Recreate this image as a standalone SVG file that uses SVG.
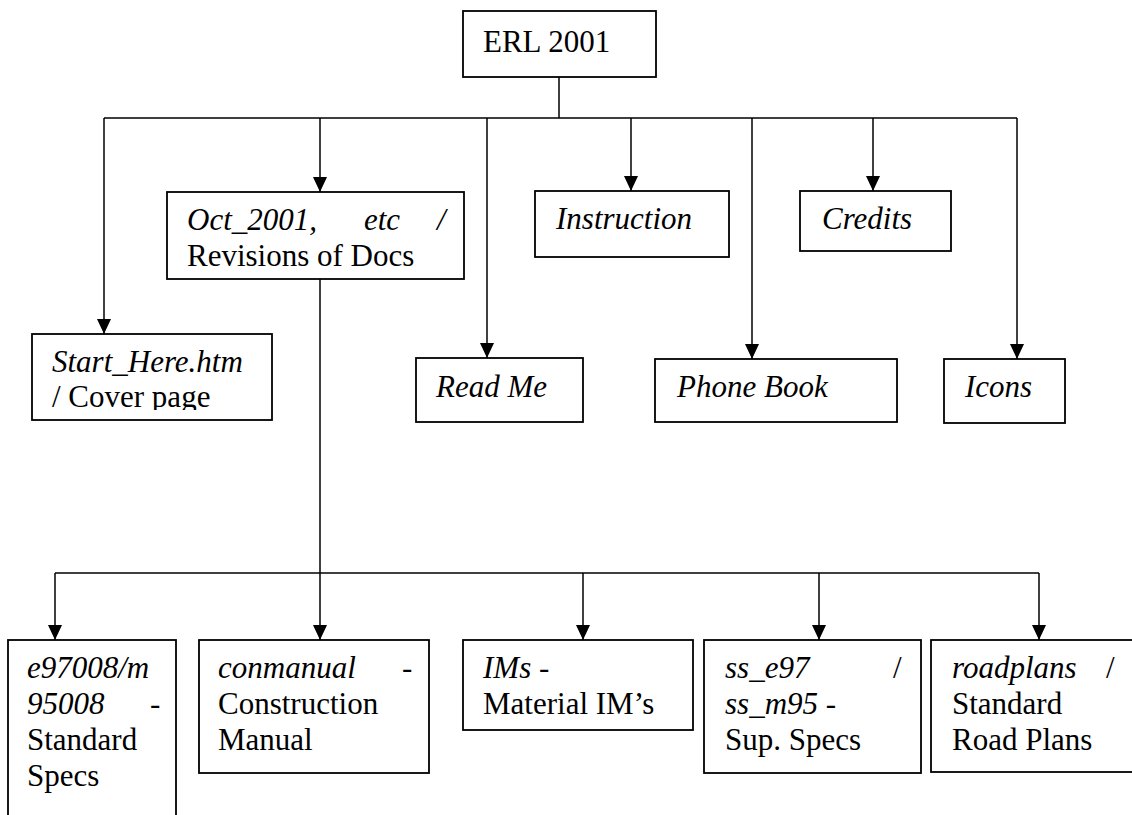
<svg xmlns="http://www.w3.org/2000/svg" width="1132" height="815" viewBox="0 0 1132 815">
<style>
.box{fill:#fff;stroke:#000;stroke-width:1.8}
.ln{fill:none;stroke:#000;stroke-width:1.5}
.t{font-family:"Liberation Serif","Times New Roman",serif;font-size:31px;fill:#000}
.i{font-style:italic}
</style>
<defs>
<marker id="ah" markerUnits="userSpaceOnUse" markerWidth="15" markerHeight="14" viewBox="0 0 15 14" refX="15" refY="7" orient="auto">
<path d="M0,0 L15,7 L0,14 z" fill="#000"/>
</marker>
<clipPath id="clipStart"><rect x="32" y="334" width="240" height="76"/></clipPath>
</defs>
<rect width="1132" height="815" fill="#fff"/>
<g id="connectors">
<path class="ln" d="M559,77 V118 M104,118 H1017"/>
<path class="ln" d="M104,118 V334" marker-end="url(#ah)"/>
<path class="ln" d="M320,118 V192" marker-end="url(#ah)"/>
<path class="ln" d="M487,118 V358" marker-end="url(#ah)"/>
<path class="ln" d="M631,118 V191" marker-end="url(#ah)"/>
<path class="ln" d="M752,118 V359" marker-end="url(#ah)"/>
<path class="ln" d="M873,118 V191" marker-end="url(#ah)"/>
<path class="ln" d="M1017,118 V359" marker-end="url(#ah)"/>
<path class="ln" d="M55,573 H1039"/>
<path class="ln" d="M320,279 V640" marker-end="url(#ah)"/>
<path class="ln" d="M55,573 V640" marker-end="url(#ah)"/>
<path class="ln" d="M583,573 V640" marker-end="url(#ah)"/>
<path class="ln" d="M819,573 V640" marker-end="url(#ah)"/>
<path class="ln" d="M1039,573 V640" marker-end="url(#ah)"/>
</g>
<g id="erl">
<rect class="box" x="463" y="11" width="193" height="66"/>
<text class="t" x="483" y="52">ERL 2001</text>
</g>
<g id="oct">
<rect class="box" x="167" y="192" width="297" height="87"/>
<text class="t i" x="187" y="230">Oct_2001,</text>
<text class="t i" x="364" y="230">etc</text>
<text class="t i" x="437" y="230">/</text>
<text class="t" x="187" y="266">Revisions of Docs</text>
</g>
<g id="instruction">
<rect class="box" x="535" y="191" width="194" height="66"/>
<text class="t i" x="556" y="229">Instruction</text>
</g>
<g id="credits">
<rect class="box" x="800" y="191" width="151" height="60"/>
<text class="t i" x="822" y="229">Credits</text>
</g>
<g id="start">
<rect class="box" x="32" y="334" width="240" height="86"/>
<g clip-path="url(#clipStart)">
<text class="t i" x="52" y="372">Start_Here.htm</text>
<text class="t" x="52" y="407">/ Cover page</text>
</g>
</g>
<g id="readme">
<rect class="box" x="416" y="358" width="167" height="64"/>
<text class="t i" x="436" y="397">Read Me</text>
</g>
<g id="phonebook">
<rect class="box" x="655" y="359" width="242" height="63"/>
<text class="t i" x="677" y="397">Phone Book</text>
</g>
<g id="icons">
<rect class="box" x="944" y="359" width="121" height="64"/>
<text class="t i" x="965" y="397">Icons</text>
</g>
<g id="e97008">
<rect class="box" x="8" y="640" width="168" height="200"/>
<text class="t i" x="27" y="678">e97008/m</text>
<text class="t i" x="27" y="714">95008</text>
<text class="t" x="150" y="714">-</text>
<text class="t" x="27" y="750">Standard</text>
<text class="t" x="27" y="786">Specs</text>
</g>
<g id="conmanual">
<rect class="box" x="199" y="640" width="230" height="133"/>
<text class="t i" x="218" y="678">conmanual</text>
<text class="t" x="402" y="678">-</text>
<text class="t" x="218" y="714">Construction</text>
<text class="t" x="218" y="750">Manual</text>
</g>
<g id="ims">
<rect class="box" x="463" y="640" width="230" height="90"/>
<text class="t" x="483" y="678"><tspan class="i">IMs</tspan> -</text>
<text class="t" x="483" y="714">Material IM’s</text>
</g>
<g id="ssspecs">
<rect class="box" x="704" y="640" width="217" height="133"/>
<text class="t i" x="725" y="678">ss_e97</text>
<text class="t" x="893" y="678">/</text>
<text class="t" x="725" y="714"><tspan class="i">ss_m95</tspan> -</text>
<text class="t" x="725" y="750">Sup. Specs</text>
</g>
<g id="roadplans">
<rect class="box" x="931" y="640" width="220" height="132"/>
<text class="t i" x="952" y="678">roadplans</text>
<text class="t" x="1106" y="678">/</text>
<text class="t" x="952" y="714">Standard</text>
<text class="t" x="952" y="750">Road Plans</text>
</g>
</svg>
